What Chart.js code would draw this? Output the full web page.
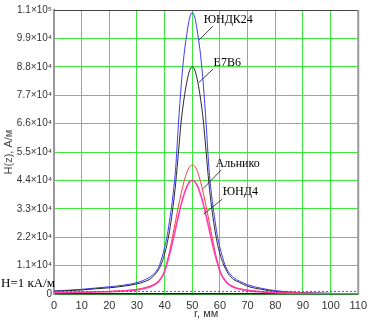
<!DOCTYPE html>
<html>
<head>
<meta charset="utf-8">
<script src="https://cdn.jsdelivr.net/npm/chart.js@4/dist/chart.umd.min.js"></script>
<style>
html,body{margin:0;padding:0;background:#fff;}
#c{display:block;}
</style>
</head>
<body>
<canvas id="c" width="372" height="324"></canvas>
<script>
// r, mm
const rValues = [0,5,10,15,20,25,30,33,35,37,38,39,40,41,42,43,44,45,46,47,48,49,50,51,52,53,54,55,56,57,58,59,60,61,62,63,65,67,70,75,80,85,90,95,100,105,110];
// H(z), A/m
const yundk24 = [1150,1450,1800,2300,2800,3400,4400,5600,6800,8900,10800,14000,18000,23000,30000,38000,49000,66000,81000,92500,100500,106800,109000,
                 106800,100500,92500,81000,66000,49000,38000,30000,23000,18000,14000,10800,8700,6300,5000,3600,2200,1300,800,500,350,250,150,100];
const e7b6 = [1050,1300,1600,2000,2400,3000,3900,4900,6000,8200,9800,12200,15500,20000,26000,33500,43000,55000,67000,75500,82000,86500,88000,
              86500,82000,75500,67000,55000,43000,33500,26000,20000,15500,12200,9800,7800,5600,4500,3000,1800,1000,650,420,300,200,120,80];
const alnico = [600,650,750,850,1000,1300,1800,2500,3200,4300,5300,6800,9000,13000,17500,23000,28500,34000,39000,43500,47000,49300,50000,
                49300,47000,43500,39000,34000,28500,23000,17500,13000,9000,6800,5300,4000,2800,2100,1500,900,600,400,300,200,150,100,50];
const yund4 = [520,580,650,750,900,1150,1600,2200,2900,4000,5000,6500,8700,12300,16200,20800,25500,30300,34700,38500,41500,43400,44000,
               43400,41500,38500,34700,30300,25500,20800,16200,12300,8700,6500,5000,3800,2600,1900,1300,800,500,350,250,180,120,80,40];
const hLevel = 1000;      // H = 1 kA/m
const hLevelRange = [0, 110];
const xTicks = [0,10,20,30,40,50,60,70,80,90,100,110];
const yTicks = [0,11000,22000,33000,44000,55000,66000,77000,88000,99000,110000];

const pts = (arr) => arr.map((v, i) => ({x: rValues[i], y: v}));
const SUP = {'0':'⁰','1':'¹','2':'²','3':'³','4':'⁴','5':'⁵','6':'⁶','7':'⁷','8':'⁸','9':'⁹'};
function sciLabel(v) {
  if (v === 0) return '0';
  const e = Math.floor(Math.log10(v) + 1e-9);
  const m = v / Math.pow(10, e);
  return m.toFixed(1) + '×10' + String(e).split('').map(c => SUP[c]).join('');
}

// label annotations in data coordinates
const notes = [
  {text:'ЮНДК24', tx:54.1, ty:106200, x1:52.4, y1:98300, x2:57.5, y2:103800},
  {text:'E7B6',   tx:57.7, ty:89700,  x1:52.4, y1:81950, x2:57.5, y2:87100},
  {text:'Альнико',tx:58.4, ty:50450,  x1:53.9, y1:40800, x2:60.5, y2:48100},
  {text:'ЮНД4',   tx:61.0, ty:39500,  x1:54.1, y1:30900, x2:60.8, y2:36700}
];

const decor = {
  id: 'decor',
  afterDatasetsDraw(chart) {
    const {ctx, chartArea: a, scales: {x, y}} = chart;
    ctx.save();
    // frame top & right
    ctx.strokeStyle = '#444'; ctx.lineWidth = 1;
    ctx.beginPath(); ctx.moveTo(a.left, a.top + 0.5); ctx.lineTo(a.right, a.top + 0.5); ctx.stroke();
    ctx.strokeStyle = '#999'; ctx.lineWidth = 2;
    ctx.beginPath(); ctx.moveTo(a.right, a.top); ctx.lineTo(a.right, a.bottom); ctx.stroke();
    // annotations
    ctx.strokeStyle = '#111'; ctx.lineWidth = 0.8;
    ctx.fillStyle = '#000';
    ctx.font = '12px "Liberation Serif", "Times New Roman", serif';
    ctx.textBaseline = 'middle'; ctx.textAlign = 'left';
    notes.forEach(n => {
      ctx.beginPath();
      ctx.moveTo(x.getPixelForValue(n.x1), y.getPixelForValue(n.y1));
      ctx.lineTo(x.getPixelForValue(n.x2), y.getPixelForValue(n.y2));
      ctx.stroke();
      ctx.fillText(n.text, x.getPixelForValue(n.tx), y.getPixelForValue(n.ty));
    });
    // H=1 kA/m label
    ctx.font = '13px "Liberation Serif", "Times New Roman", serif';
    ctx.textBaseline = 'alphabetic';
    ctx.fillText('H=1 кА/м', 1, y.getPixelForValue(hLevel) - 4);
    ctx.restore();
  }
};

new Chart(document.getElementById('c'), {
  type: 'line',
  data: {
    datasets: [
      {label:'H=1 кА/м', data: hLevelRange.map(r => ({x:r, y:hLevel})), borderColor:'#5a50d0', borderWidth:1, borderDash:[2,2], pointRadius:0},
      {label:'ЮНД4', data: pts(yund4), borderColor:'#ff3cb0', borderWidth:1.6, pointRadius:0, cubicInterpolationMode:'monotone'},
      {label:'Альнико', data: pts(alnico), borderColor:'#ff3a3a', borderWidth:1, pointRadius:0, cubicInterpolationMode:'monotone'},
      {label:'E7B6', data: pts(e7b6), borderColor:'#2a2a2a', borderWidth:1, pointRadius:0, cubicInterpolationMode:'monotone'},
      {label:'ЮНДК24', data: pts(yundk24), borderColor:'#3c3cf0', borderWidth:1, pointRadius:0, cubicInterpolationMode:'monotone'}
    ]
  },
  options: {
    responsive: false,
    animation: false,
    devicePixelRatio: 1,
    layout: {padding: {left: 0, right: 13, top: 10, bottom: 0}},
    plugins: {legend: {display: false}, tooltip: {enabled: false}},
    scales: {
      x: {
        type: 'linear', min: 0, max: 110,
        afterBuildTicks: (s) => { s.ticks = xTicks.map(v => ({value: v})); },
        afterFit: (s) => { s.height = 30; },
        grid: {color: '#3ce83c', lineWidth: 1, drawTicks: false},
        border: {color: '#222', width: 1.5},
        ticks: {color: '#333', padding: 5, font: {family: '"Liberation Sans", Arial, sans-serif', size: 11}, maxRotation: 0},
        title: {display: true, text: 'r, мм', color: '#333', padding: {top: 0, bottom: 3}, font: {family: '"Liberation Sans", Arial, sans-serif', size: 11}}
      },
      y: {
        type: 'linear', min: 0, max: 110000,
        afterBuildTicks: (s) => { s.ticks = yTicks.map(v => ({value: v})); },
        afterFit: (s) => { s.width = 54; },
        grid: {color: '#3ce83c', lineWidth: 1, drawTicks: false},
        border: {color: '#999', width: 2},
        ticks: {color: '#333', padding: 2, callback: (v) => sciLabel(v), font: {family: '"Liberation Sans", Arial, sans-serif', size: 10}},
        title: {display: true, text: 'H(z), A/м', color: '#444', padding: {top: 2, bottom: 0}, font: {family: '"Liberation Sans", Arial, sans-serif', size: 11}}
      }
    }
  },
  plugins: [decor]
});
</script>
</body>
</html>
